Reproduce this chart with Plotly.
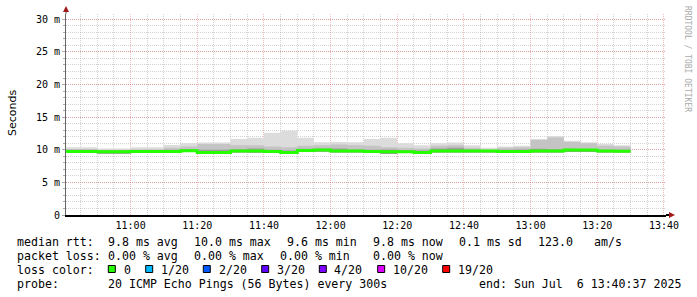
import pandas as pd
import plotly.graph_objects as go

# ---------------- data ----------------
step_start = pd.date_range("2025-07-06 10:40", "2025-07-06 13:25", freq="5min")
data_end = pd.Timestamp("2025-07-06 13:30")
range_start = "2025-07-06 10:40:37"
range_end = "2025-07-06 13:40:37"

median_ms = [9.72, 9.72, 9.70, 9.70, 9.72, 9.72, 9.75, 9.87, 9.60, 9.60,
             9.80, 9.80, 9.75, 9.60, 9.90, 9.95, 9.80, 9.80, 9.75, 9.70,
             9.70, 9.60, 9.80, 9.80, 9.80, 9.80, 9.75, 9.75, 9.80, 9.80,
             9.95, 9.95, 9.80, 9.78]
smoke_max = [10.4, 10.4, 10.2, 10.2, 10.4, 10.4, 10.75, 11.0, 11.1, 11.1,
             11.65, 11.85, 12.6, 12.9, 11.85, 11.15, 11.2, 11.15, 11.65, 11.85,
             11.0, 10.7, 11.0, 11.1, 10.7, 10.3, 10.5, 10.6, 11.65, 12.1,
             11.4, 11.15, 10.9, 10.7]
smoke_mid = [10.1, 10.1, 10.0, 10.0, 10.1, 10.1, 10.3, 10.5, 10.9, 10.9,
             10.7, 10.7, 10.5, 10.4, 10.6, 10.7, 10.8, 10.7, 10.6, 10.4,
             10.3, 10.2, 10.6, 10.7, 10.3, 10.05, 10.3, 10.4, 11.5, 11.9,
             11.2, 11.0, 10.6, 10.5]
smoke_dark = [10.0, 10.0, 9.9, 9.9, 9.95, 9.95, 10.0, 10.1, 10.0, 10.0,
              10.1, 10.2, 10.0, 9.9, 10.15, 10.2, 10.2, 10.05, 10.0, 10.05,
              9.95, 9.9, 10.2, 10.3, 10.05, 9.95, 10.0, 10.05, 10.15, 10.1,
              10.15, 10.1, 10.0, 10.0]
smoke_min = [9.55, 9.55, 9.40, 9.40, 9.55, 9.55, 9.60, 9.65, 9.45, 9.45,
             9.60, 9.55, 9.55, 9.40, 9.65, 9.70, 9.60, 9.60, 9.55, 9.35,
             9.50, 9.45, 9.60, 9.60, 9.60, 9.60, 9.55, 9.55, 9.60, 9.60,
             9.65, 9.65, 9.60, 9.60]

y_tickvals = [0, 5, 10, 15, 20, 25, 30]
y_ticktext = ["0", "5 m", "10 m", "15 m", "20 m", "25 m", "30 m"]

loss_labels = ["0", "1/20", "2/20", "3/20", "4/20", "10/20", "19/20"]
loss_colors = ["#26ff00", "#00b8ff", "#0059ff", "#5e00ff", "#7e00ff", "#dd00ff", "#ff0000"]

row1 = ["median rtt:", "9.8 ms avg", "10.0 ms max", "9.6 ms min", "9.8 ms now",
        "0.1 ms sd", "123.0", "am/s"]
row2 = ["packet loss:", "0.00 % avg", "0.00 % max", "0.00 % min", "0.00 % now"]
row4 = ["probe:", "20 ICMP Echo Pings (56 Bytes) every 300s",
        "end: Sun Jul\u00a0\u00a06 13:40:37 2025"]

# ---------------- layout geometry (pixels) ----------------
W, H = 697, 297
L, R, T, B = 66, 31, 14, 82
PW, PH = W - L - R, H - T - B
def px(xp):
    return (xp - L) / PW
def py(yp):
    return (H - B - yp) / PH

MONO = "DejaVu Sans Mono"
x_steps = list(step_start) + [data_end]
def ext(v):
    return list(v) + [v[-1]]

fig = go.Figure()

def band(lower, upper, color):
    fig.add_trace(go.Scatter(x=x_steps, y=ext(lower), mode="lines", line=dict(width=0, shape="hv"),
                             hoverinfo="skip", showlegend=False))
    fig.add_trace(go.Scatter(x=x_steps, y=ext(upper), mode="lines", line=dict(width=0, shape="hv"),
                             fill="tonexty", fillcolor=color, hoverinfo="skip", showlegend=False))

band(smoke_min, smoke_max, "#dcdcdc")
band(smoke_min, smoke_mid, "#c4c4c4")
band(smoke_min, smoke_dark, "#9c9c9c")

fig.add_trace(go.Scatter(x=x_steps, y=ext(median_ms), mode="lines",
                         line=dict(color=loss_colors[0], width=3, shape="hv"),
                         hoverinfo="skip", showlegend=False))

MGRID = "rgba(225,90,90,0.42)"
GRID = "rgba(150,150,150,0.42)"

fig.update_layout(
    width=W, height=H,
    margin=dict(l=L, r=R, t=T, b=B, pad=0),
    paper_bgcolor="white", plot_bgcolor="white",
    showlegend=False,
    font=dict(family=MONO, size=10, color="black"),
    xaxis=dict(
        type="date", range=[range_start, range_end],
        tick0="2025-07-06 11:00", dtick=20 * 60 * 1000, tickformat="%H:%M",
        showgrid=True, gridcolor=MGRID, griddash="1px,1px", gridwidth=1,
        minor=dict(dtick=5 * 60 * 1000, tick0="2025-07-06 11:00", showgrid=True,
                   gridcolor=GRID, griddash="1px,1px", gridwidth=1),
        showline=True, linecolor="black", linewidth=2,
        ticks="", zeroline=False, layer="above traces",
        tickfont=dict(family=MONO, size=10, color="black"),
        fixedrange=True,
    ),
    yaxis=dict(
        range=[0, PH / 6.522],
        tickvals=y_tickvals, ticktext=y_ticktext,
        showgrid=True, gridcolor=MGRID, griddash="1px,1px", gridwidth=1,
        minor=dict(dtick=1, showgrid=True, gridcolor=GRID, griddash="1px,1px", gridwidth=1,
                   ticks="outside", ticklen=2, tickcolor="#aaa"),
        ticks="outside", ticklen=3, tickcolor="#aaa",
        showline=True, linecolor="#666", linewidth=1,
        zeroline=False, layer="above traces",
        tickfont=dict(family=MONO, size=10, color="black"),
        fixedrange=True,
    ),
)

shapes = []
# axis extensions and arrows
shapes.append(dict(type="line", xref="paper", yref="paper", x0=px(66), x1=px(66), y0=py(T), y1=py(11),
                   line=dict(color="#666", width=1)))
shapes.append(dict(type="path", xref="paper", yref="paper",
                   path=f"M {px(63)} {py(12)} L {px(69)} {py(12)} L {px(66)} {py(6)} Z",
                   fillcolor="#a01818", line=dict(width=0)))
shapes.append(dict(type="line", xref="paper", yref="paper", x0=px(666), x1=px(669), y0=py(215), y1=py(215),
                   line=dict(color="black", width=2)))
shapes.append(dict(type="path", xref="paper", yref="paper",
                   path=f"M {px(669)} {py(212)} L {px(669)} {py(218)} L {px(675)} {py(215)} Z",
                   fillcolor="#a01818", line=dict(width=0)))

annotations = []
def txt(x, y, s, size=11.6, family=MONO, color="black", angle=0, xanchor="left"):
    annotations.append(dict(xref="paper", yref="paper", x=px(x), y=py(y), text=s, showarrow=False,
                            xanchor=xanchor, yanchor="middle", textangle=angle,
                            font=dict(family=family, size=size, color=color), borderpad=0))

row1_x = [16, 107.3, 193.3, 286, 372, 458.3, 537.3, 593.3]
for s, x in zip(row1, row1_x):
    txt(x, 242, s)
row2_x = [16, 107.3, 193.3, 279.3, 372.3]
for s, x in zip(row2, row2_x):
    txt(x, 256, s)
txt(16, 270, "loss color:")
sw_x = [108.3, 145.7, 203.3, 261.7, 319.3, 377.7, 442.7]
lab_x = [123.3, 160, 217.7, 275.7, 333.3, 391.7, 456.7]
for c, lab, sx, lx in zip(loss_colors, loss_labels, sw_x, lab_x):
    shapes.append(dict(type="rect", xref="paper", yref="paper", x0=px(sx), x1=px(sx + 7),
                       y0=py(265.5), y1=py(272.5), fillcolor=c, line=dict(color="black", width=1)))
    txt(lx, 270, lab)
row4_x = [16, 107.3, 478.3]
for s, x in zip(row4, row4_x):
    txt(x, 284, s)

txt(12, 113, "Seconds", size=11, family="DejaVu Sans", angle=-90, xanchor="center")
txt(687, 59, "RRDTOOL / TOBI OETIKER", size=8, color="#aaaaaa", angle=90, xanchor="center")

fig.update_layout(shapes=shapes, annotations=annotations)
fig.write_html("out.html")
